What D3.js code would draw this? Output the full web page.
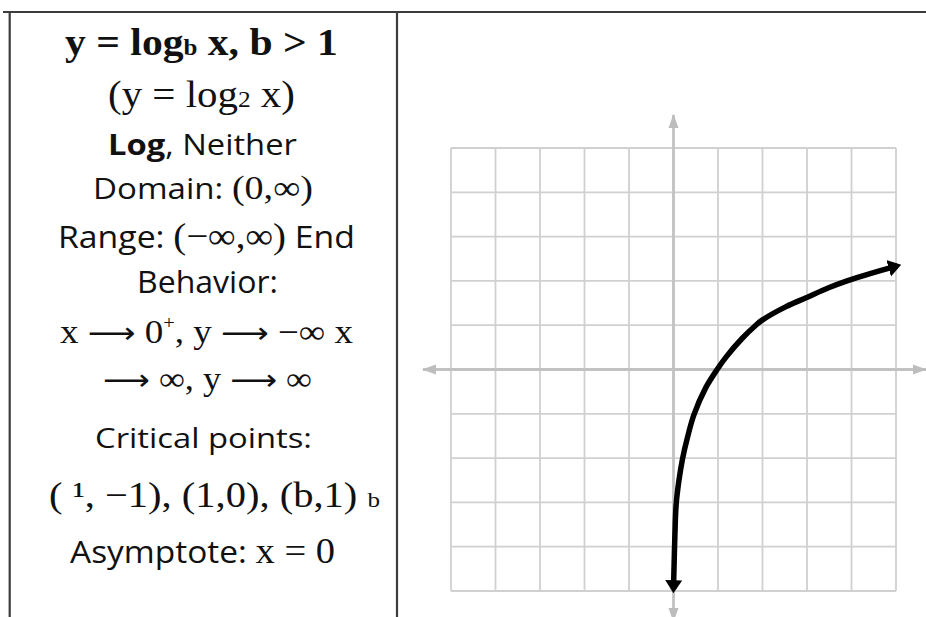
<!DOCTYPE html>
<html lang="en">
<head>
<meta charset="UTF-8">
<title>y = log_b x, b &gt; 1</title>
<script src="https://cdn.jsdelivr.net/npm/d3@7"></script>
<style>
  body { margin: 0; background: #fff; }
  svg { display: block; background: #fff; }
  .grid line { stroke: #d0d0d0; stroke-width: 1.8; }
  .axis { stroke: #c2c2c2; stroke-width: 2.8; fill: none; }
  .curve { stroke: #000; stroke-width: 5.5; fill: none; stroke-linejoin: round; }
  .frame { stroke: #3c3c3c; stroke-width: 2.2; }
</style>
</head>
<body>
<svg id="chart" width="926" height="617"></svg>
<script>
  // grid lines, -5..5 on both axes
  const gridTicks = [-5, -4, -3, -2, -1, 0, 1, 2, 3, 4, 5];

  // the hand-drawn curve in grid units
  const curveX = [0.00, 0.01, 0.03, 0.06, 0.12, 0.20, 0.31, 0.46, 0.72, 0.98, 1.18, 1.54, 1.85, 2.00, 2.53, 2.98, 3.50, 3.90, 4.40, 5.03];
  const curveY = [-4.96, -4.54, -3.79, -3.04, -2.52, -2.03, -1.55, -1.02, -0.42, 0.00, 0.28, 0.70, 1.00, 1.12, 1.42, 1.62, 1.85, 2.00, 2.16, 2.34];

  // left cell text, one entry per line: [text, style]
  const cellLines = [
    [["y = log", "SB"], ["b", "SBs"], [" x, b > 1", "SB"]],
    [["(y = log", "S"], ["2", "Ss"], [" x)", "S"]],
    [["Log", "NB"], [", Neither", "N"]],
    [["Domain: ", "N"], ["(0,∞)", "Sm"]],
    [["Range: ", "N"], ["(−∞,∞)", "Sm"], [" End", "N"]],
    [["Behavior:", "N"]],
    [["x ", "S"], ["⟶", "Ar"], [" 0", "S"], ["+", "Sup"], [", y ", "S"], ["⟶", "Ar"], [" −∞ x", "S"]],
    [["⟶", "Ar"], [" ∞, y ", "S"], ["⟶", "Ar"], [" ∞", "S"]],
    [["Critical points:", "N"]],
    [["( ", "S"], ["¹", "S"], [", −1), (1,0), (b,1) ", "S"], ["b", "Ss"]],
    [["Asymptote: ", "N"], ["x = 0", "Sm"]]
  ];

  // layout of those lines: left edge, baseline, font size, measured width
  const lineLeft  = [65, 108, 108, 93, 58, 137, 60, 103, 95, 49, 70];
  const lineBase  = [55, 107, 155, 199, 248, 293, 343, 390, 448, 507, 563];
  const lineSize  = [38, 38, 29, 29, 31, 31, 33, 33, 28, 35, 31];
  const lineWidth = [273, 187, 189, 220, 297, 141, 293, 209, 217, 331, 265];

  const serif = "'Liberation Serif', 'Times New Roman', serif";
  const sans = "'Open Sans', 'Noto Sans', sans-serif";
  const arrows = "'DejaVu Sans', sans-serif";
  const styles = {
    SB:  { family: serif,  weight: 700, scale: 1,    shift: 0 },
    SBs: { family: serif,  weight: 700, scale: 0.6,  shift: 0 },
    S:   { family: serif,  weight: 400, scale: 1,    shift: 0 },
    Sm:  { family: serif,  weight: 400, scale: 1.15, shift: 0 },
    Ss:  { family: serif,  weight: 400, scale: 0.62, shift: 0 },
    Sup: { family: serif,  weight: 400, scale: 0.55, shift: -0.42 },
    Ar:  { family: arrows, weight: 400, scale: 0.9,  shift: 0 },
    N:   { family: sans,   weight: 400, scale: 1,    shift: 0 },
    NB:  { family: sans,   weight: 700, scale: 1,    shift: 0 }
  };

  const W = 926, H = 617;
  const svg = d3.select("#chart");

  // table frame
  svg.append("line").attr("class", "frame").attr("x1", 3).attr("x2", W).attr("y1", 12).attr("y2", 12);
  svg.append("line").attr("class", "frame").attr("x1", 9.7).attr("x2", 9.7).attr("y1", 11).attr("y2", H);
  svg.append("line").attr("class", "frame").attr("x1", 397).attr("x2", 397).attr("y1", 11).attr("y2", H);

  // left cell text
  cellLines.forEach((segs, i) => {
    const size = lineSize[i];
    const t = svg.append("text")
      .attr("x", 0).attr("y", 0)
      .attr("fill", "#111")
      .attr("font-size", size);
    let prevShift = 0;
    segs.forEach(([txt, key]) => {
      const st = styles[key];
      const shift = st.shift * size;
      t.append("tspan")
        .attr("font-family", st.family)
        .attr("font-weight", st.weight)
        .attr("font-size", size * st.scale)
        .attr("dy", shift - prevShift)
        .text(txt);
      prevShift = shift;
    });
    const len = t.node().getComputedTextLength();
    const k = lineWidth[i] / len;
    t.attr("transform", `translate(${lineLeft[i]},${lineBase[i]}) scale(${k},1)`);
  });

  // graph
  const x = d3.scaleLinear().domain([-5, 5]).range([451, 896]);
  const y = d3.scaleLinear().domain([-5, 5]).range([591, 148]);

  const defs = svg.append("defs");
  defs.append("marker")
    .attr("id", "axisHead")
    .attr("viewBox", "0 -6 14 12")
    .attr("markerUnits", "userSpaceOnUse")
    .attr("markerWidth", 14).attr("markerHeight", 12)
    .attr("refX", 13).attr("refY", 0)
    .attr("orient", "auto-start-reverse")
    .append("path").attr("d", "M0,-5 L14,0 L0,5 Z").attr("fill", "#bdbdbd");
  defs.append("marker")
    .attr("id", "curveHead")
    .attr("viewBox", "0 -9 13 18")
    .attr("markerUnits", "userSpaceOnUse")
    .attr("markerWidth", 13).attr("markerHeight", 18)
    .attr("refX", 9).attr("refY", 0)
    .attr("orient", "auto-start-reverse")
    .append("path").attr("d", "M0,-8.5 L13,0 L0,8.5 Z").attr("fill", "#000");

  const grid = svg.append("g").attr("class", "grid");
  grid.selectAll("line.v").data(gridTicks).join("line")
    .attr("class", "v")
    .attr("x1", d => x(d)).attr("x2", d => x(d))
    .attr("y1", y(5)).attr("y2", y(-5));
  grid.selectAll("line.h").data(gridTicks).join("line")
    .attr("class", "h")
    .attr("x1", x(-5)).attr("x2", x(5))
    .attr("y1", d => y(d)).attr("y2", d => y(d));

  // axes with arrow heads, running past the grid
  svg.append("line").attr("class", "axis")
    .attr("x1", x(-5) - 28).attr("x2", W)
    .attr("y1", y(0)).attr("y2", y(0))
    .attr("marker-start", "url(#axisHead)").attr("marker-end", "url(#axisHead)");
  svg.append("line").attr("class", "axis")
    .attr("x1", x(0)).attr("x2", x(0))
    .attr("y1", y(5) - 33).attr("y2", y(-5) + 30)
    .attr("marker-start", "url(#axisHead)").attr("marker-end", "url(#axisHead)");

  const pts = curveX.map((v, i) => [v, curveY[i]]);
  const line = d3.line()
    .x(d => x(d[0]))
    .y(d => y(d[1]))
    .curve(d3.curveCatmullRom.alpha(0.5));
  svg.append("path").attr("class", "curve")
    .attr("d", line(pts))
    .attr("marker-start", "url(#curveHead)")
    .attr("marker-end", "url(#curveHead)");
</script>
</body>
</html>
